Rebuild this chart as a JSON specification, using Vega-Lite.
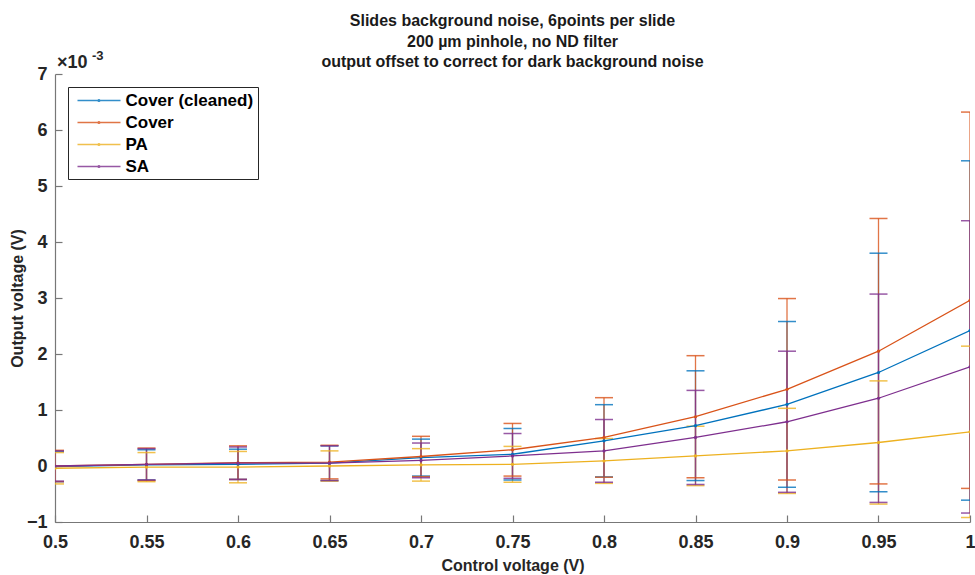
{
  "$schema": "https://vega.github.io/schema/vega-lite/v6.json",
  "width": 915,
  "height": 448,
  "autosize": "none",
  "padding": {"left": 55, "top": 74, "right": 5, "bottom": 53},
  "background": "white",
  "config": {"view": {"stroke": null}, "font": "Liberation Sans"},
  "title": {
    "text": ["Slides background noise, 6points per slide", "200 µm pinhole, no ND filter", "output offset to correct for dark background noise"],
    "fontSize": 16, "fontWeight": "bold", "color": "#1a1a1a", "lineHeight": 20.5, "offset": -20, "anchor": "middle", "font": "Liberation Sans"
  },
  "datasets": {
    "series": [
      {"x": 0.5, "s": "Cover (cleaned)", "y": -0.01, "lo": -0.28, "hi": 0.26},
      {"x": 0.55, "s": "Cover (cleaned)", "y": 0.02, "lo": -0.25, "hi": 0.29},
      {"x": 0.6, "s": "Cover (cleaned)", "y": 0.03, "lo": -0.24, "hi": 0.30},
      {"x": 0.65, "s": "Cover (cleaned)", "y": 0.05, "lo": -0.26, "hi": 0.36},
      {"x": 0.7, "s": "Cover (cleaned)", "y": 0.15, "lo": -0.18, "hi": 0.48},
      {"x": 0.75, "s": "Cover (cleaned)", "y": 0.21, "lo": -0.25, "hi": 0.67},
      {"x": 0.8, "s": "Cover (cleaned)", "y": 0.45, "lo": -0.195, "hi": 1.095},
      {"x": 0.85, "s": "Cover (cleaned)", "y": 0.72, "lo": -0.26, "hi": 1.70},
      {"x": 0.9, "s": "Cover (cleaned)", "y": 1.10, "lo": -0.38, "hi": 2.58},
      {"x": 0.95, "s": "Cover (cleaned)", "y": 1.67, "lo": -0.46, "hi": 3.80},
      {"x": 1.0, "s": "Cover (cleaned)", "y": 2.42, "lo": -0.61, "hi": 5.45},
      {"x": 0.5, "s": "Cover", "y": 0.0, "lo": -0.28, "hi": 0.28},
      {"x": 0.55, "s": "Cover", "y": 0.03, "lo": -0.26, "hi": 0.32},
      {"x": 0.6, "s": "Cover", "y": 0.06, "lo": -0.24, "hi": 0.36},
      {"x": 0.65, "s": "Cover", "y": 0.07, "lo": -0.23, "hi": 0.37},
      {"x": 0.7, "s": "Cover", "y": 0.17, "lo": -0.19, "hi": 0.53},
      {"x": 0.75, "s": "Cover", "y": 0.29, "lo": -0.18, "hi": 0.76},
      {"x": 0.8, "s": "Cover", "y": 0.51, "lo": -0.20, "hi": 1.22},
      {"x": 0.85, "s": "Cover", "y": 0.88, "lo": -0.21, "hi": 1.97},
      {"x": 0.9, "s": "Cover", "y": 1.37, "lo": -0.25, "hi": 2.99},
      {"x": 0.95, "s": "Cover", "y": 2.05, "lo": -0.32, "hi": 4.42},
      {"x": 1.0, "s": "Cover", "y": 2.96, "lo": -0.40, "hi": 6.32},
      {"x": 0.5, "s": "PA", "y": -0.04, "lo": -0.32, "hi": 0.24},
      {"x": 0.55, "s": "PA", "y": -0.02, "lo": -0.28, "hi": 0.24},
      {"x": 0.6, "s": "PA", "y": -0.02, "lo": -0.30, "hi": 0.26},
      {"x": 0.65, "s": "PA", "y": 0.0, "lo": -0.27, "hi": 0.27},
      {"x": 0.7, "s": "PA", "y": 0.02, "lo": -0.27, "hi": 0.31},
      {"x": 0.75, "s": "PA", "y": 0.03, "lo": -0.29, "hi": 0.35},
      {"x": 0.8, "s": "PA", "y": 0.09, "lo": -0.31, "hi": 0.49},
      {"x": 0.85, "s": "PA", "y": 0.18, "lo": -0.35, "hi": 0.71},
      {"x": 0.9, "s": "PA", "y": 0.27, "lo": -0.49, "hi": 1.03},
      {"x": 0.95, "s": "PA", "y": 0.42, "lo": -0.68, "hi": 1.52},
      {"x": 1.0, "s": "PA", "y": 0.61, "lo": -0.92, "hi": 2.14},
      {"x": 0.5, "s": "SA", "y": 0.0, "lo": -0.27, "hi": 0.27},
      {"x": 0.55, "s": "SA", "y": 0.03, "lo": -0.25, "hi": 0.31},
      {"x": 0.6, "s": "SA", "y": 0.05, "lo": -0.24, "hi": 0.34},
      {"x": 0.65, "s": "SA", "y": 0.05, "lo": -0.26, "hi": 0.36},
      {"x": 0.7, "s": "SA", "y": 0.10, "lo": -0.21, "hi": 0.41},
      {"x": 0.75, "s": "SA", "y": 0.18, "lo": -0.22, "hi": 0.58},
      {"x": 0.8, "s": "SA", "y": 0.27, "lo": -0.29, "hi": 0.83},
      {"x": 0.85, "s": "SA", "y": 0.51, "lo": -0.33, "hi": 1.35},
      {"x": 0.9, "s": "SA", "y": 0.79, "lo": -0.47, "hi": 2.05},
      {"x": 0.95, "s": "SA", "y": 1.21, "lo": -0.65, "hi": 3.07},
      {"x": 1.0, "s": "SA", "y": 1.77, "lo": -0.84, "hi": 4.38}
    ],
    "notes": [
      {"x": 0.5, "y": 7, "t": "×10", "part": "base"},
      {"x": 0.5, "y": 7, "t": "-3", "part": "exp"}
    ]
  },
  "data": {"name": "series"},
  "encoding": {
    "x": {
      "field": "x", "type": "quantitative",
      "scale": {"domain": [0.5, 1], "nice": false, "zero": false},
      "axis": {
        "title": "Control voltage (V)", "values": [0.5, 0.55, 0.6, 0.65, 0.7, 0.75, 0.8, 0.85, 0.9, 0.95, 1],
        "format": ".2~f", "grid": false, "domainColor": "#777777", "domainWidth": 1.2,
        "tickColor": "#777777", "tickSize": -7, "tickWidth": 1.2,
        "labelFontSize": 18, "labelFontWeight": "bold", "labelColor": "#262626", "labelPadding": 18,
        "titleFontSize": 16, "titleFontWeight": "bold", "titleColor": "#262626", "titlePadding": 6,
        "labelFlush": false, "labelOverlap": false
      }
    },
    "y": {"field": "y", "type": "quantitative", "scale": {"domain": [-1, 7], "nice": false},
      "axis": {
        "title": "Output voltage (V)", "values": [-1, 0, 1, 2, 3, 4, 5, 6, 7], "format": "d", "grid": false,
        "domainColor": "#777777", "domainWidth": 1.2, "tickColor": "#777777", "tickSize": -7, "tickWidth": 1.2,
        "labelFontSize": 18, "labelFontWeight": "bold", "labelColor": "#262626", "labelPadding": 15,
        "titleFontSize": 16, "titleFontWeight": "bold", "titleColor": "#262626", "titlePadding": 1,
        "labelOverlap": false, "labelFlush": false
      }}
  },
  "layer": [
    {
      "mark": {"type": "rule", "strokeWidth": 1.3, "opacity": 0.8, "clip": true},
      "encoding": {
        "y": {"field": "lo", "type": "quantitative"},
        "y2": {"field": "hi"},
        "color": {"field": "s", "type": "nominal",
          "scale": {"domain": ["Cover (cleaned)", "Cover", "PA", "SA"], "range": ["#0072BD", "#D95319", "#EDB120", "#7E2F8E"]},
          "legend": {
            "title": null, "orient": "none", "legendX": 13, "legendY": 13,
            "symbolType": "M-0.5,0H4.875M2.3,0A0.12,0.12,0,1,1,2.06,0A0.12,0.12,0,1,1,2.3,0",
            "symbolSize": 256, "symbolStrokeWidth": 1.3, "symbolOpacity": 1,
            "labelFontSize": 17, "labelFontWeight": "bold", "labelColor": "#000000", "labelOffset": 35,
            "padding": 4.5, "rowPadding": 5, "strokeColor": "#262626", "fillColor": "white"
          }}
      }
    },
    {
      "mark": {"type": "tick", "orient": "horizontal", "size": 18, "thickness": 1.5, "opacity": 0.8, "clip": true},
      "encoding": {"y": {"field": "lo", "type": "quantitative"}, "color": {"field": "s", "type": "nominal"}}
    },
    {
      "mark": {"type": "tick", "orient": "horizontal", "size": 18, "thickness": 1.5, "opacity": 0.8, "clip": true},
      "encoding": {"y": {"field": "hi", "type": "quantitative"}, "color": {"field": "s", "type": "nominal"}}
    },
    {
      "mark": {"type": "line", "strokeWidth": 1.3, "clip": true},
      "encoding": {"color": {"field": "s", "type": "nominal"}}
    },
    {
      "mark": {"type": "point", "filled": true, "size": 10, "opacity": 1, "clip": true},
      "encoding": {"color": {"field": "s", "type": "nominal"}}
    },
    {
      "data": {"name": "notes"},
      "transform": [{"filter": "datum.part === 'base'"}],
      "mark": {"type": "text", "align": "left", "baseline": "alphabetic", "dx": 2, "dy": -6, "fontSize": 18, "fontWeight": "bold", "fill": "#262626"},
      "encoding": {"text": {"field": "t"}}
    },
    {
      "data": {"name": "notes"},
      "transform": [{"filter": "datum.part === 'exp'"}],
      "mark": {"type": "text", "align": "left", "baseline": "alphabetic", "dx": 37, "dy": -14, "fontSize": 13, "fontWeight": "bold", "fill": "#262626"},
      "encoding": {"text": {"field": "t"}}
    }
  ]
}
